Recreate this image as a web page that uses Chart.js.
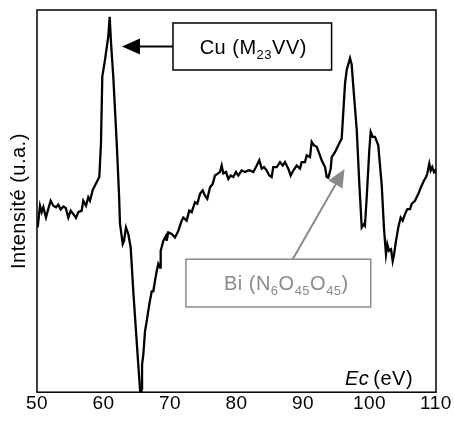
<!DOCTYPE html>
<html>
<head>
<meta charset="utf-8">
<script src="https://cdn.jsdelivr.net/npm/chart.js@4.4.1/dist/chart.umd.min.js"></script>
<style>
  body { margin: 0; background: #fff; }
</style>
</head>
<body>
<canvas id="myChart" width="454" height="421"></canvas>
<script>
// spectre Auger (Ec en eV, intensite en u.a. sur 0..100)
var energie = [50.1, 50.45, 50.71, 50.95, 51.35, 51.7, 52.06, 52.45, 52.86, 53.2,
  53.56, 53.96, 54.32, 54.71, 55.07, 55.46, 55.86, 56.21, 56.72, 56.96,
  57.37, 57.71, 57.97, 58.38, 58.72, 59.37, 59.62, 59.82, 60.23, 60.72,
  60.93, 61.13, 61.47, 61.99, 62.33, 62.48, 62.89, 63.08, 63.38, 63.73,
  64.09, 64.48, 64.89, 65.23, 65.56, 65.79, 65.8, 65.99, 66.24, 66.5,
  66.89, 67.25, 67.49, 67.74, 68.0, 68.24, 68.5, 68.6, 68.99, 69.4,
  69.5, 69.74, 70.26, 70.75, 71.25, 71.76, 72.0, 72.51, 72.9, 73.26,
  73.76, 74.11, 74.51, 74.92, 75.26, 75.61, 76.02, 76.42, 76.77, 77.17,
  77.52, 77.77, 78.02, 78.42, 78.77, 79.13, 79.52, 79.92, 80.27, 80.78,
  81.28, 81.77, 82.03, 82.53, 83.04, 83.43, 83.79, 84.14, 84.54, 84.93,
  85.29, 85.53, 86.05, 86.54, 86.95, 87.29, 87.79, 88.15, 88.54, 89.05,
  89.55, 89.8, 90.3, 90.56, 91.05, 91.31, 91.65, 92.06, 92.45, 92.81,
  93.31, 93.57, 93.81, 94.17, 94.32, 94.81, 95.31, 95.82, 96.32, 96.57,
  97.07, 97.32, 97.57, 98.08, 98.47, 98.83, 99.17, 99.32, 99.58, 99.97,
  100.18, 100.48, 100.83, 101.32, 101.84, 102.18, 102.48, 102.68, 102.93, 103.24,
  103.49, 103.69, 103.99, 104.33, 104.69, 104.99, 105.34, 105.69, 106.09, 106.35,
  106.84, 107.34, 107.85, 108.2, 108.5, 108.69, 108.99, 109.2, 109.44, 109.7,
  109.9, 110.0];
var intensite = [43.1, 48.8, 47.1, 48.4, 45.7, 48.0, 50.1, 48.8, 48.4, 49.1,
  47.8, 48.6, 48.2, 45.7, 47.5, 46.6, 45.6, 47.1, 47.5, 50.1,
  48.8, 51.0, 50.1, 52.9, 54.1, 56.3, 65.1, 82.6, 87.0, 93.1,
  98.2, 91.4, 82.6, 65.1, 52.0, 44.1, 38.8, 39.6, 43.1, 41.4,
  37.8, 26.4, 15.9, 7.2, -1.0, 1.0, 7.2, 9.9, 15.9, 18.6,
  23.0, 26.4, 26.4, 29.1, 31.7, 33.6, 32.6, 37.0, 39.6, 40.9,
  39.6, 41.8, 41.4, 40.5, 42.2, 44.9, 45.7, 44.9, 47.5, 47.1,
  49.7, 49.3, 51.9, 52.8, 51.4, 50.6, 53.6, 54.5, 56.7, 57.2,
  57.6, 59.3, 57.2, 57.6, 55.8, 56.7, 56.3, 57.6, 56.7, 58.0,
  57.6, 58.0, 58.0, 57.6, 59.3, 60.7, 58.5, 58.9, 58.0, 56.7,
  56.3, 58.9, 58.9, 60.2, 59.3, 60.2, 58.5, 56.7, 58.0, 59.3,
  58.5, 60.2, 60.2, 62.0, 61.5, 65.5, 64.6, 64.2, 62.4, 60.7,
  58.9, 56.3, 56.1, 58.5, 61.5, 62.8, 64.6, 66.4, 80.8, 84.3,
  87.4, 85.7, 79.9, 68.6, 54.5, 43.1, 44.0, 43.6, 51.0, 63.3,
  68.1, 66.8, 66.8, 64.6, 54.1, 42.8, 36.1, 38.7, 37.0, 37.4,
  34.3, 36.1, 39.6, 43.1, 45.7, 44.9, 46.6, 47.9, 47.9, 49.3,
  50.1, 51.9, 54.1, 55.4, 56.3, 57.2, 59.8, 58.0, 58.9, 57.6,
  58.0, 57.2];
var ticksX = [50, 60, 70, 80, 90, 100, 110];

var police = '"Liberation Sans", Arial, Helvetica, sans-serif';
Chart.defaults.font.family = police;
Chart.defaults.color = '#000';

// cadres et fleches, en coordonnees des donnees
var noteCu = { bx1: 70.45, bx2: 94.3, by1: 96.6, by2: 84.3, tx: 62.78, ty: 90.45 };
var noteBi = { bx1: 72.4, bx2: 100.18, by1: 34.8, by2: 22.3, sx: 88.45, sy: 34.8, tx: 96.24, ty: 58.4 };

function fleche(ctx, x1, y1, x2, y2, couleur) {
  var ang = Math.atan2(y2 - y1, x2 - x1);
  var L = 18, W = 8;
  var bx = x2 - L * Math.cos(ang), by = y2 - L * Math.sin(ang);
  ctx.strokeStyle = couleur;
  ctx.fillStyle = couleur;
  ctx.lineWidth = 2;
  ctx.beginPath();
  ctx.moveTo(x1, y1);
  ctx.lineTo(bx, by);
  ctx.stroke();
  ctx.beginPath();
  ctx.moveTo(x2, y2);
  ctx.lineTo(bx + W * Math.sin(ang), by - W * Math.cos(ang));
  ctx.lineTo(bx - W * Math.sin(ang), by + W * Math.cos(ang));
  ctx.closePath();
  ctx.fill();
}

function texteIndice(ctx, morceaux, x, y, taille, couleur) {
  var total = 0;
  morceaux.forEach(function (m) {
    ctx.font = (m[1] ? Math.round(taille * 0.66) : taille) + 'px ' + police;
    total += ctx.measureText(m[0]).width;
  });
  var cx = x - total / 2;
  ctx.fillStyle = couleur;
  ctx.textAlign = 'left';
  ctx.textBaseline = 'alphabetic';
  morceaux.forEach(function (m) {
    ctx.font = (m[1] ? Math.round(taille * 0.66) : taille) + 'px ' + police;
    ctx.fillText(m[0], cx, m[1] ? y + 5 : y);
    cx += ctx.measureText(m[0]).width;
  });
}

// leger espacement des lettres, comme sur la figure
var espacement = {
  id: 'espacement',
  beforeUpdate: function (chart) { chart.ctx.letterSpacing = '0.5px'; },
  beforeDraw: function (chart) { chart.ctx.letterSpacing = '0.5px'; }
};

var annotations = {
  id: 'annotations',
  afterDatasetsDraw: function (chart) {
    var ctx = chart.ctx, xs = chart.scales.x, ys = chart.scales.y, a = chart.chartArea;
    ctx.save();
    ctx.letterSpacing = '0.5px';
    // cadre du graphe
    ctx.strokeStyle = '#000';
    ctx.lineWidth = 1.5;
    ctx.strokeRect(a.left, a.top, a.right - a.left, a.bottom - a.top);

    // Cu
    var x1 = xs.getPixelForValue(noteCu.bx1), x2 = xs.getPixelForValue(noteCu.bx2);
    var y1 = ys.getPixelForValue(noteCu.by1), y2 = ys.getPixelForValue(noteCu.by2);
    ctx.fillStyle = '#fff';
    ctx.fillRect(x1, y1, x2 - x1, y2 - y1);
    ctx.strokeStyle = '#000';
    ctx.lineWidth = 1.5;
    ctx.strokeRect(x1, y1, x2 - x1, y2 - y1);
    fleche(ctx, x1, (y1 + y2) / 2, xs.getPixelForValue(noteCu.tx), ys.getPixelForValue(noteCu.ty), '#000');
    texteIndice(ctx, [['Cu (M', false], ['23', true], ['VV)', false]], (x1 + x2) / 2 + 1, (y1 + y2) / 2 + 7, 20, '#000');

    // Bi
    var gris = '#8a8a8a';
    x1 = xs.getPixelForValue(noteBi.bx1); x2 = xs.getPixelForValue(noteBi.bx2);
    y1 = ys.getPixelForValue(noteBi.by1); y2 = ys.getPixelForValue(noteBi.by2);
    ctx.fillStyle = '#fff';
    ctx.fillRect(x1, y1, x2 - x1, y2 - y1);
    ctx.strokeStyle = gris;
    ctx.lineWidth = 1.5;
    ctx.strokeRect(x1, y1, x2 - x1, y2 - y1);
    fleche(ctx, xs.getPixelForValue(noteBi.sx), ys.getPixelForValue(noteBi.sy),
      xs.getPixelForValue(noteBi.tx), ys.getPixelForValue(noteBi.ty), gris);
    texteIndice(ctx, [['Bi (N', false], ['6', true], ['O', false], ['45', true], ['O', false], ['45', true], [')', false]],
      (x1 + x2) / 2 + 8, (y1 + y2) / 2 + 7, 20, gris);

    // titre de l'axe x dans le graphe
    ctx.fillStyle = '#000';
    ctx.textBaseline = 'alphabetic';
    ctx.textAlign = 'left';
    ctx.font = 'italic 20px ' + police;
    var debut = a.left + 308;
    ctx.fillText('Ec', debut, a.bottom - 7);
    var w = ctx.measureText('Ec').width;
    ctx.font = '20px ' + police;
    ctx.fillText('(eV)', debut + w + 4, a.bottom - 7);
    ctx.restore();
  }
};

var ctx = document.getElementById('myChart');
var myChart = new Chart(ctx, {
  type: 'line',
  data: {
    datasets: [{
      data: energie.map(function (e, i) { return { x: e, y: intensite[i] }; }),
      borderColor: '#000',
      borderWidth: 2.3,
      pointRadius: 0,
      tension: 0,
      fill: false
    }]
  },
  options: {
    responsive: false,
    animation: false,
    layout: { padding: { left: 7, right: 18, top: 10, bottom: 6 } },
    plugins: { legend: { display: false }, tooltip: { enabled: false } },
    scales: {
      x: {
        type: 'linear',
        min: 50,
        max: 110,
        afterBuildTicks: function (scale) {
          scale.ticks = ticksX.map(function (v) { return { value: v }; });
        },
        grid: { display: false, drawTicks: false },
        border: { display: false },
        ticks: { font: { size: 19 }, padding: 0, maxRotation: 0 }
      },
      y: {
        min: 0,
        max: 100,
        grid: { display: false, drawTicks: false },
        border: { display: false },
        ticks: { display: false },
        title: { display: true, text: 'Intensité (u.a.)', font: { size: 20 }, padding: { top: 0, bottom: 6 } }
      }
    }
  },
  plugins: [espacement, annotations]
});
</script>
</body>
</html>
